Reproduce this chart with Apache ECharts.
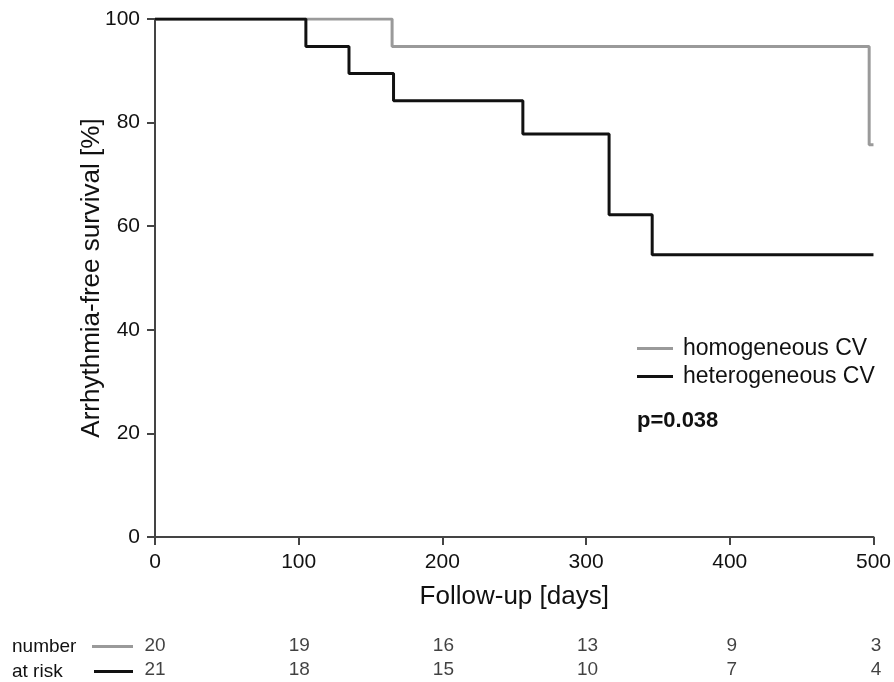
<!DOCTYPE html>
<html>
<head>
<meta charset="utf-8">
<script src="https://cdn.jsdelivr.net/npm/echarts@6/dist/echarts.min.js"></script>
<style>
html, body { margin: 0; padding: 0; background: #fff; }
#chart { width: 894px; height: 682px; }
</style>
</head>
<body>
<div id="chart"></div>
<script>
var seriesNames = ['homogeneous CV', 'heterogeneous CV'];
// survival curves: [day, percent]
var homogeneous = [[0, 100], [165, 94.7], [497, 75.7], [500, 75.7]];
var heterogeneous = [[0, 100], [105, 94.7], [135, 89.5], [166, 84.2], [256, 77.8], [316, 62.2], [346, 54.5], [500, 54.5]];
// number at risk
var riskDays = [0, 100, 200, 300, 400, 500];
var riskHomogeneous = [20, 19, 16, 13, 9, 3];
var riskHeterogeneous = [21, 18, 15, 10, 7, 4];
var pText = 'p=0.038';

var font = 'Liberation Sans, Arial, sans-serif';
var grayCol = '#9a9a9a';
var blackCol = '#111111';
var axisCol = '#444';

function riskData(arr, row) {
	var out = [];
	for (var i = 0; i < riskDays.length; i++) {
		out.push([riskDays[i], row, arr[i]]);
	}
	return out;
}

var chart = echarts.init(document.getElementById('chart'));
var option = {
	backgroundColor: '#fff',
	animation: false,
	textStyle: { fontFamily: font },
	grid: [
		{ left: 155, right: 18, top: 19, bottom: 145 },
		{ left: 155, right: 18, top: 634, height: 50 }
	],
	xAxis: [{
		gridIndex: 0,
		type: 'value',
		min: 0, max: 500, interval: 100,
		name: 'Follow-up [days]',
		nameLocation: 'middle',
		nameGap: 47,
		nameTextStyle: { fontSize: 26, color: '#111', fontFamily: font },
		axisLine: { lineStyle: { color: axisCol, width: 2 } },
		axisTick: { show: true, length: 8, lineStyle: { color: axisCol, width: 2 } },
		axisLabel: { fontSize: 21, color: '#111', margin: 15, fontFamily: font },
		splitLine: { show: false }
	}, {
		gridIndex: 1,
		type: 'value',
		min: 0, max: 500,
		show: false
	}],
	yAxis: [{
		gridIndex: 0,
		type: 'value',
		min: 0, max: 100, interval: 20,
		name: 'Arrhythmia-free survival [%]',
		nameLocation: 'middle',
		nameGap: 50,
		nameMoveOverlap: false,
		nameTextStyle: { fontSize: 26, color: '#111', fontFamily: font },
		axisLine: { show: true, lineStyle: { color: axisCol, width: 2 } },
		axisTick: { show: true, length: 8, lineStyle: { color: axisCol, width: 2 } },
		axisLabel: { fontSize: 21, color: '#111', margin: 15, fontFamily: font },
		splitLine: { show: false }
	}, {
		gridIndex: 1,
		type: 'value',
		min: -0.5, max: 1.5,
		inverse: true,
		show: false
	}],
	legend: {
		orient: 'vertical',
		left: 632,
		top: 332,
		itemWidth: 36,
		itemHeight: 3,
		itemGap: 5,
		icon: 'rect',
		data: seriesNames,
		textStyle: { fontSize: 23, color: '#111', fontFamily: font, padding: [0, 0, 0, 5] }
	},
	graphic: [
		{ type: 'text', left: 637, top: 410, style: { text: pText, font: 'bold 22px ' + font, fill: '#111' } },
		{ type: 'text', left: 12, top: 637, style: { text: 'number', font: '19px ' + font, fill: '#111' } },
		{ type: 'text', left: 12, top: 662, style: { text: 'at risk', font: '19px ' + font, fill: '#111' } },
		{ type: 'rect', shape: { x: 92, y: 645, width: 41, height: 3 }, style: { fill: grayCol } },
		{ type: 'rect', shape: { x: 94, y: 670, width: 39, height: 3 }, style: { fill: blackCol } }
	],
	series: [{
		name: seriesNames[0],
		type: 'line',
		step: 'end',
		xAxisIndex: 0, yAxisIndex: 0,
		data: homogeneous,
		symbol: 'none',
		z: 3,
		lineStyle: { color: grayCol, width: 3 },
		itemStyle: { color: grayCol }
	}, {
		name: seriesNames[1],
		type: 'line',
		step: 'end',
		xAxisIndex: 0, yAxisIndex: 0,
		data: heterogeneous,
		symbol: 'none',
		z: 4,
		lineStyle: { color: blackCol, width: 3 },
		itemStyle: { color: blackCol }
	}, {
		name: 'risk1',
		type: 'scatter',
		xAxisIndex: 1, yAxisIndex: 1,
		symbolSize: 0,
		data: riskData(riskHomogeneous, 0),
		label: {
			show: true, position: 'inside',
			formatter: function (p) { return p.data[2]; },
			fontSize: 19, color: '#111', fontFamily: font
		}
	}, {
		name: 'risk2',
		type: 'scatter',
		xAxisIndex: 1, yAxisIndex: 1,
		symbolSize: 0,
		data: riskData(riskHeterogeneous, 1),
		label: {
			show: true, position: 'inside',
			formatter: function (p) { return p.data[2]; },
			fontSize: 19, color: '#111', fontFamily: font
		}
	}]
};
chart.setOption(option);
</script>
</body>
</html>
